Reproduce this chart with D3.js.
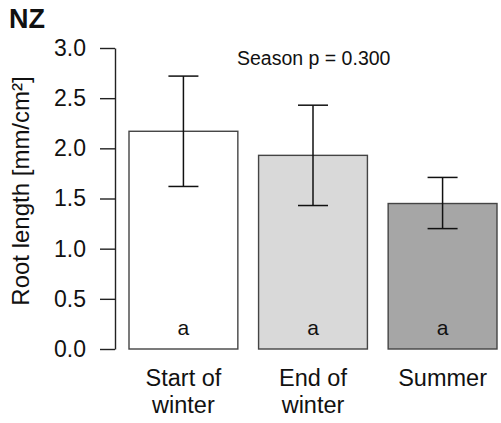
<!DOCTYPE html>
<html>
<head>
<meta charset="utf-8">
<script src="https://cdn.jsdelivr.net/npm/d3@7"></script>
<style>
  body { margin: 0; background: #fff; }
  text { font-family: "Liberation Sans", Arial, sans-serif; fill: #111; }
</style>
</head>
<body>
<div id="chart"></div>
<script>
// data
var seasons = ["Start of winter", "End of winter", "Summer"];
var seasonLines = [["Start of", "winter"], ["End of", "winter"], ["Summer"]];
var means = [2.17, 1.93, 1.45];
var lower = [1.62, 1.43, 1.20];
var upper = [2.72, 2.43, 1.71];
var letters = ["a", "a", "a"];
var fills = ["#ffffff", "#d9d9d9", "#a6a6a6"];
var yTicks = [0.0, 0.5, 1.0, 1.5, 2.0, 2.5, 3.0];

var width = 501, height = 423;
var margin = { top: 48, right: 4, bottom: 74, left: 115 };

var svg = d3.select("#chart")
  .append("svg")
    .attr("width", width)
    .attr("height", height);

var y = d3.scaleLinear()
  .domain([0, 3])
  .range([height - margin.bottom, margin.top]);

var x = d3.scaleBand()
  .domain(seasons)
  .range([margin.left + 14, width - margin.right])
  .paddingInner(0.16)
  .paddingOuter(0);

// y axis
var yAxis = svg.append("g")
  .attr("transform", "translate(" + margin.left + ",0)")
  .call(d3.axisLeft(y).tickValues(yTicks).tickFormat(d3.format(".1f")).tickSize(15).tickPadding(14).tickSizeOuter(0));
yAxis.select(".domain").attr("stroke", "#222").attr("stroke-width", 1.4);
yAxis.selectAll(".tick line").attr("stroke", "#222").attr("stroke-width", 1.4);
yAxis.selectAll(".tick text")
  .style("font-size", "23px")
  .style("font-family", "Liberation Sans, Arial, sans-serif")
  .attr("fill", "#111");

// bars
svg.selectAll("rect.bar")
  .data(seasons)
  .enter()
  .append("rect")
    .attr("class", "bar")
    .attr("x", d => x(d))
    .attr("width", x.bandwidth())
    .attr("y", (d, i) => y(means[i]))
    .attr("height", (d, i) => y(0) - y(means[i]))
    .attr("fill", (d, i) => fills[i])
    .attr("stroke", "#444")
    .attr("stroke-width", 1.4);

// error bars
var capW = 15;
var err = svg.selectAll("g.err")
  .data(seasons)
  .enter()
  .append("g")
    .attr("class", "err")
    .attr("stroke", "#111")
    .attr("stroke-width", 1.5);
err.append("line")
  .attr("x1", d => x(d) + x.bandwidth() / 2)
  .attr("x2", d => x(d) + x.bandwidth() / 2)
  .attr("y1", (d, i) => y(lower[i]))
  .attr("y2", (d, i) => y(upper[i]));
err.append("line")
  .attr("x1", d => x(d) + x.bandwidth() / 2 - capW)
  .attr("x2", d => x(d) + x.bandwidth() / 2 + capW)
  .attr("y1", (d, i) => y(upper[i]))
  .attr("y2", (d, i) => y(upper[i]));
err.append("line")
  .attr("x1", d => x(d) + x.bandwidth() / 2 - capW)
  .attr("x2", d => x(d) + x.bandwidth() / 2 + capW)
  .attr("y1", (d, i) => y(lower[i]))
  .attr("y2", (d, i) => y(lower[i]));

// significance letters
svg.selectAll("text.letter")
  .data(seasons)
  .enter()
  .append("text")
    .attr("class", "letter")
    .attr("x", d => x(d) + x.bandwidth() / 2)
    .attr("y", y(0) - 14)
    .attr("text-anchor", "middle")
    .style("font-size", "21px")
    .text((d, i) => letters[i]);

// x labels
svg.selectAll("text.xlab")
  .data(seasons)
  .enter()
  .append("text")
    .attr("class", "xlab")
    .attr("text-anchor", "middle")
    .style("font-size", "23.5px")
    .attr("transform", d => "translate(" + (x(d) + x.bandwidth() / 2) + "," + (y(0) + 37) + ")")
    .selectAll("tspan")
    .data((d, i) => seasonLines[i])
    .enter()
    .append("tspan")
      .attr("x", 0)
      .attr("dy", (d, j) => j === 0 ? 0 : 27)
      .text(d => d);

// y label
svg.append("text")
  .attr("transform", "translate(29," + 191 + ") rotate(-90)")
  .attr("text-anchor", "middle")
  .style("font-size", "24px")
  .text("Root length [mm/cm²]");

// p value
svg.append("text")
  .attr("x", 237)
  .attr("y", 65)
  .style("font-size", "19.5px")
  .text("Season p = 0.300");

// panel title
svg.append("text")
  .attr("x", 9)
  .attr("y", 28)
  .style("font-size", "27px")
  .style("font-weight", "bold")
  .text("NZ");
</script>
</body>
</html>
